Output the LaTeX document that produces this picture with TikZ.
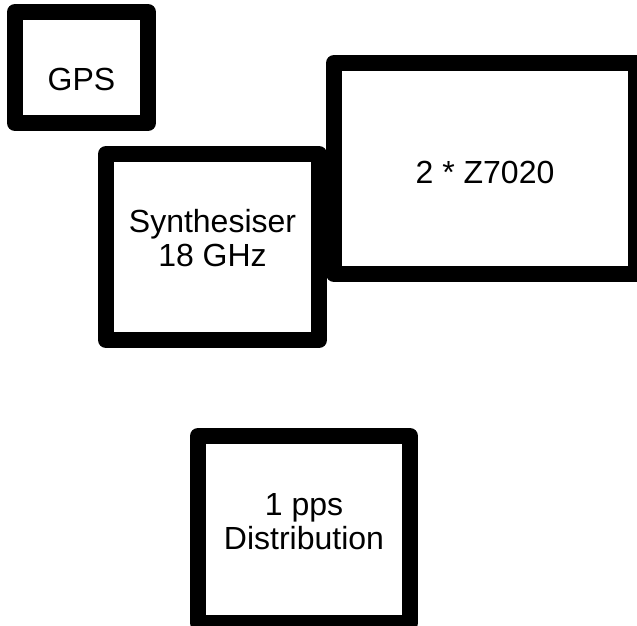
\documentclass[tikz,border=0pt]{standalone}
\usepackage{fontspec}
\setmainfont{Liberation Sans}
\begin{document}
\begin{tikzpicture}[x=1pt, y=1pt,
    blk/.style={draw, line width=16pt, line join=round, inner sep=0pt, outer sep=0pt},
    lbl/.style={align=center, font=\fontsize{32}{34}\selectfont}]
    % 1. Page frame
    \useasboundingbox (0,0) rectangle (637,626);

    % 2. Blocks
    \node[blk, minimum width=133pt, minimum height=111pt] (gps) at (81.5,558.5) {};
    \node[blk, minimum width=213pt, minimum height=186pt] (synth) at (212.5,379) {};
    \node[blk, minimum width=302pt, minimum height=211pt] (zynq) at (485,457.5) {};
    \node[blk, minimum width=212pt, minimum height=187pt] (pps) at (304,96.5) {};

    % 3. Labels
    \node[lbl] (gpslbl) at ([yshift=-12pt]gps.center) {GPS};
    \node[lbl] (synthlbl) at ([yshift=9pt]synth.center) {Synthesiser\\18 GHz};
    \node[lbl] (zynqlbl) at ([yshift=-3.5pt]zynq.center) {2 * Z7020};
    \node[lbl] (ppslbl) at ([yshift=7.5pt]pps.center) {1 pps\\Distribution};
\end{tikzpicture}
\end{document}
